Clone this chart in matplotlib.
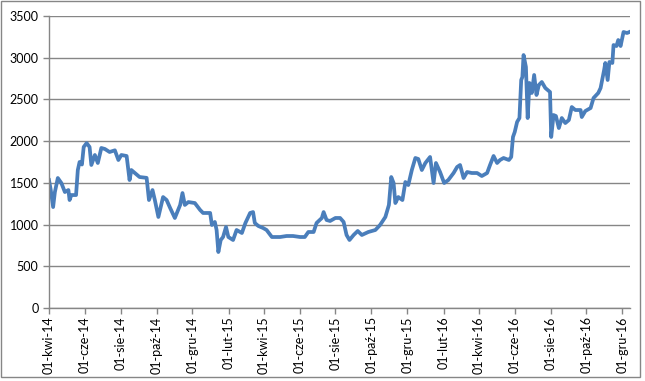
import numpy as np
import matplotlib
matplotlib.use('Agg')
import matplotlib.pyplot as plt
import matplotlib.dates as mdates
from matplotlib.patches import Rectangle

dates = [
    '2014-04-01', '2014-04-04', '2014-04-08', '2014-04-11', '2014-04-16', '2014-04-22',
    '2014-04-28', '2014-05-04', '2014-05-06', '2014-05-09', '2014-05-17', '2014-05-20',
    '2014-05-23', '2014-05-27', '2014-05-30', '2014-06-04', '2014-06-09', '2014-06-12',
    '2014-06-18', '2014-06-23', '2014-06-29', '2014-07-05', '2014-07-13', '2014-07-22',
    '2014-07-28', '2014-08-02', '2014-08-11', '2014-08-16', '2014-08-19', '2014-08-25',
    '2014-09-02', '2014-09-14', '2014-09-18', '2014-09-24', '2014-09-28', '2014-10-04',
    '2014-10-12', '2014-10-18', '2014-10-24', '2014-11-01', '2014-11-10', '2014-11-14',
    '2014-11-18', '2014-11-24', '2014-12-05', '2014-12-14', '2014-12-19', '2014-12-31',
    '2015-01-03', '2015-01-08', '2015-01-11', '2015-01-14', '2015-01-18', '2015-01-22',
    '2015-01-27', '2015-01-31', '2015-02-08', '2015-02-14', '2015-02-23', '2015-03-01',
    '2015-03-09', '2015-03-14', '2015-03-17', '2015-03-23', '2015-03-31', '2015-04-06',
    '2015-04-15', '2015-04-29', '2015-05-10', '2015-05-21', '2015-06-02', '2015-06-10',
    '2015-06-16', '2015-06-25', '2015-06-30', '2015-07-09', '2015-07-12', '2015-07-17',
    '2015-07-23', '2015-08-01', '2015-08-09', '2015-08-15', '2015-08-20', '2015-08-25',
    '2015-09-01', '2015-09-08', '2015-09-15', '2015-09-26', '2015-10-08', '2015-10-16',
    '2015-10-25', '2015-10-31', '2015-11-04', '2015-11-08', '2015-11-11', '2015-11-16',
    '2015-11-23', '2015-11-28', '2015-12-03', '2015-12-09', '2015-12-15', '2015-12-20',
    '2015-12-26', '2016-01-01', '2016-01-09', '2016-01-15', '2016-01-19', '2016-01-26',
    '2016-02-02', '2016-02-09', '2016-02-18', '2016-02-24', '2016-02-29', '2016-03-06',
    '2016-03-12', '2016-03-20', '2016-03-29', '2016-04-06', '2016-04-15', '2016-04-20',
    '2016-04-26', '2016-05-02', '2016-05-07', '2016-05-13', '2016-05-22', '2016-05-26',
    '2016-05-29', '2016-06-01', '2016-06-05', '2016-06-09', '2016-06-12', '2016-06-14',
    '2016-06-16', '2016-06-20', '2016-06-23', '2016-06-26', '2016-06-30', '2016-07-04',
    '2016-07-08', '2016-07-12', '2016-07-17', '2016-07-23', '2016-07-31', '2016-08-02',
    '2016-08-06', '2016-08-10', '2016-08-15', '2016-08-20', '2016-08-26', '2016-09-01',
    '2016-09-06', '2016-09-12', '2016-09-21', '2016-09-23', '2016-09-29', '2016-10-08',
    '2016-10-13', '2016-10-21', '2016-10-25', '2016-10-31', '2016-11-02', '2016-11-06',
    '2016-11-09', '2016-11-14', '2016-11-16', '2016-11-21', '2016-11-24', '2016-11-28',
    '2016-12-03', '2016-12-09', '2016-12-13',
]
values = [
    1534, 1414, 1210, 1390, 1558, 1498,
    1390, 1414, 1294, 1354, 1354, 1654,
    1750, 1720, 1930, 1977, 1930, 1714,
    1834, 1738, 1918, 1906, 1870, 1890,
    1774, 1834, 1822, 1534, 1654, 1618,
    1570, 1560, 1294, 1414, 1294, 1091,
    1330, 1294, 1199, 1079, 1235, 1378,
    1235, 1270, 1258, 1175, 1139, 1139,
    995, 1031, 935, 671, 815, 851,
    971, 851, 815, 935, 899, 1019,
    1139, 1150, 1019, 983, 959, 935,
    851, 851, 863, 863, 851, 851,
    911, 911, 1019, 1079, 1150, 1055,
    1043, 1079, 1079, 1031, 875, 815,
    875, 923, 875, 911, 935, 995,
    1091, 1235, 1570, 1498, 1258, 1330,
    1294, 1510, 1474, 1654, 1798, 1786,
    1654, 1738, 1810, 1498, 1738, 1630,
    1498, 1534, 1618, 1690, 1714, 1558,
    1630, 1618, 1618, 1582, 1618, 1714,
    1822, 1738, 1774, 1798, 1774, 1810,
    2050, 2110, 2230, 2277, 2733, 2769,
    3032, 2889, 2277, 2697, 2577, 2793,
    2553, 2673, 2709, 2637, 2589, 2050,
    2313, 2301, 2157, 2277, 2217, 2253,
    2409, 2373, 2373, 2289, 2361, 2397,
    2517, 2577, 2637, 2853, 2937, 2733,
    2949, 2937, 3152, 3140, 3212, 3140,
    3308, 3296, 3308,
]

pl_months = ['sty', 'lut', 'mar', 'kwi', 'maj', 'cze',
             'lip', 'sie', 'wrz', 'paź', 'lis', 'gru']

x = np.array(dates, dtype='datetime64[D]')
y = np.array(values)

plt.rcParams['font.family'] = ['Lato', 'DejaVu Sans']

fig = plt.figure(figsize=(6.45, 3.81), dpi=100)
ax = fig.add_axes([49/645, 1 - 308/381, (630 - 49)/645, (308 - 16)/381])

ax.plot(x, y, color='#4A7EBB', lw=2.7, solid_joinstyle='round')

ax.set_ylim(0, 3500)
ax.set_yticks(np.arange(0, 3501, 500))
ax.set_xlim(np.datetime64('2014-04-01'), np.datetime64('2016-12-14'))
ax.xaxis.set_major_locator(mdates.MonthLocator(bymonth=[2, 4, 6, 8, 10, 12]))
ax.xaxis.set_major_formatter(plt.FuncFormatter(
    lambda v, p: '01-%s-%s' % (pl_months[mdates.num2date(v).month - 1],
                                mdates.num2date(v).strftime('%y'))))

ax.grid(axis='y', color='#868686', lw=1)
ax.set_axisbelow(True)
for s in ['top', 'right']:
    ax.spines[s].set_visible(False)
for s in ['left', 'bottom']:
    ax.spines[s].set_color('#868686')
    ax.spines[s].set_linewidth(1)
ax.tick_params(axis='both', colors='#868686', length=4, width=1, labelcolor='black',
               labelsize=9)
ax.tick_params(axis='x', labelrotation=90, pad=2)

fig.patches.append(Rectangle((1/645, 4/381), 639/645, 376/381, transform=fig.transFigure,
                             fill=False, edgecolor='#868686', lw=1))

fig.savefig('out.png', dpi=100)
